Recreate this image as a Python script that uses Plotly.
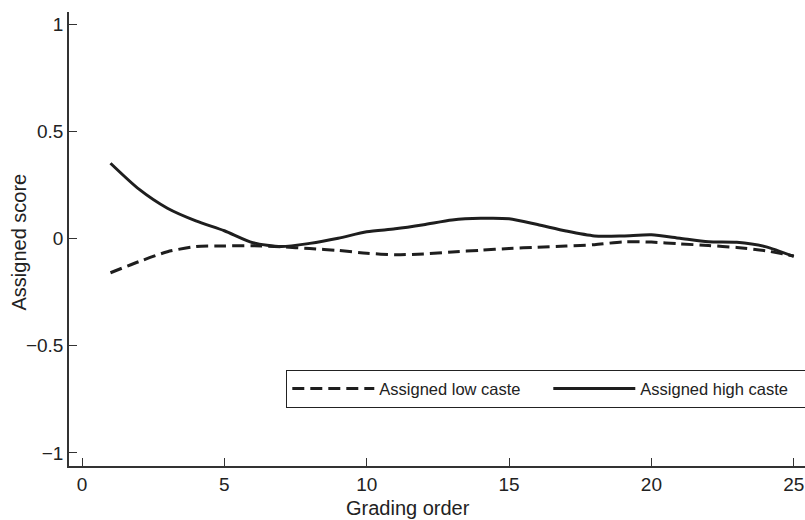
import plotly.graph_objects as go

grading_order = list(range(1, 26))
low_caste = [-0.159, -0.107, -0.061, -0.037, -0.034, -0.033, -0.038, -0.046, -0.055, -0.068,
             -0.075, -0.071, -0.062, -0.054, -0.046, -0.040, -0.034, -0.028, -0.015, -0.016,
             -0.024, -0.032, -0.041, -0.056, -0.081]
high_caste = [0.352, 0.231, 0.142, 0.083, 0.037, -0.019, -0.037, -0.022, 0.002, 0.032,
              0.046, 0.065, 0.087, 0.095, 0.093, 0.066, 0.036, 0.013, 0.013, 0.018,
              0.002, -0.014, -0.017, -0.037, -0.083]
series_names = ["Assigned low caste", "Assigned high caste"]
x_ticks = [0, 5, 10, 15, 20, 25]
y_ticks = [-1, -0.5, 0, 0.5, 1]

FONT = "Liberation Sans, Arial, sans-serif"
LINE = "#1e1e1e"
TXT = "#222"

fig = go.Figure()
fig.add_trace(go.Scatter(x=grading_order, y=low_caste, mode="lines", name=series_names[0],
                         line=dict(color=LINE, width=3, dash="12px,6px", shape="spline", smoothing=0.7)))
fig.add_trace(go.Scatter(x=grading_order, y=high_caste, mode="lines", name=series_names[1],
                         line=dict(color=LINE, width=3, shape="spline", smoothing=0.7)))

fig.update_layout(
    width=805, height=520,
    margin=dict(l=69, r=0, t=12, b=54, autoexpand=False),
    paper_bgcolor="white", plot_bgcolor="white",
    font=dict(family=FONT, color=TXT),
    showlegend=True,
    legend=dict(orientation="h", x=(286 - 69) / 736, y=(466 - 370) / 454,
                xanchor="left", yanchor="top",
                bordercolor="#222", borderwidth=1.3, bgcolor="white",
                font=dict(size=16.5, family=FONT, color=TXT),
                itemwidth=82, entrywidth=164, traceorder="normal"),
    xaxis=dict(range=[-0.457, 25.395], tickvals=x_ticks, ticks="inside", ticklen=8,
               tickwidth=1.3, tickcolor="#333", showline=True, linecolor="#333", linewidth=1.5,
               showgrid=False, zeroline=False, automargin=False,
               tickfont=dict(size=19, family=FONT, color=TXT)),
    yaxis=dict(range=[-1.061, 1.058], tickvals=y_ticks, ticks="inside", ticklen=8,
               tickwidth=1.3, tickcolor="#333", showline=True, linecolor="#333", linewidth=1.5,
               showgrid=False, zeroline=False, automargin=False,
               tickfont=dict(size=19, family=FONT, color=TXT)),
    annotations=[
        dict(text="Grading order", xref="paper", yref="paper",
             x=(408 - 69) / 736, y=(466 - 508) / 454, xanchor="center", yanchor="middle",
             showarrow=False, font=dict(size=20, family=FONT, color=TXT)),
        dict(text="Assigned score", xref="paper", yref="paper", textangle=-90,
             x=(18 - 69) / 736, y=(466 - 242.5) / 454, xanchor="center", yanchor="middle",
             showarrow=False, font=dict(size=20, family=FONT, color=TXT)),
    ],
)

fig.write_html("out.html", config={"displayModeBar": False},
               post_script="document.body.style.margin='0';document.body.style.overflow='hidden';")
